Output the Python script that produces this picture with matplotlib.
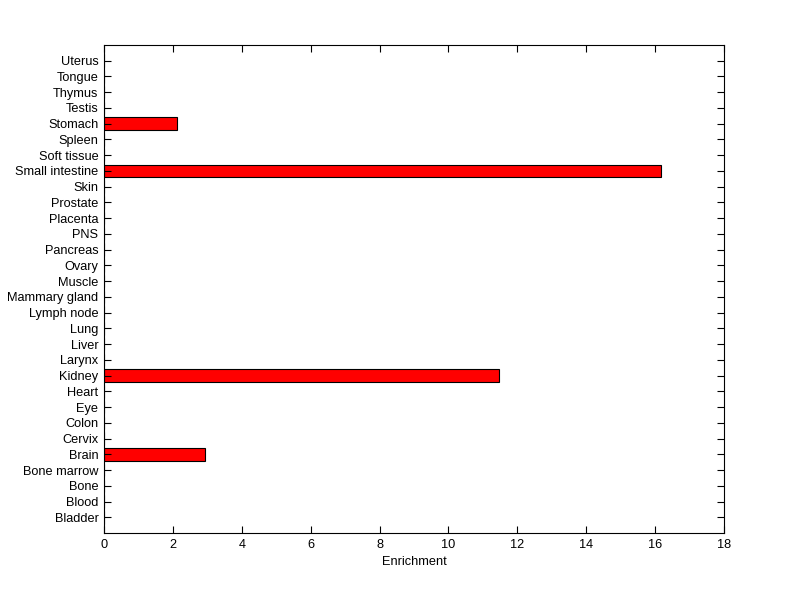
import numpy as np
import matplotlib
matplotlib.use('Agg')
import matplotlib.pyplot as plt

# tissues, bottom to top
tissues = ['Bladder', 'Blood', 'Bone', 'Bone marrow', 'Brain', 'Cervix', 'Colon',
           'Eye', 'Heart', 'Kidney', 'Larynx', 'Liver', 'Lung', 'Lymph node',
           'Mammary gland', 'Muscle', 'Ovary', 'Pancreas', 'PNS', 'Placenta',
           'Prostate', 'Skin', 'Small intestine', 'Soft tissue', 'Spleen',
           'Stomach', 'Testis', 'Thymus', 'Tongue', 'Uterus']
enrichment = [0, 0, 0, 0, 2.93, 0, 0,
              0, 0, 11.46, 0, 0, 0, 0,
              0, 0, 0, 0, 0, 0,
              0, 0, 16.17, 0, 0,
              2.12, 0, 0, 0, 0]
xticks = [0, 2, 4, 6, 8, 10, 12, 14, 16, 18]

plt.rcParams.update({
    'font.family': ['Liberation Sans', 'DejaVu Sans'],
    'font.size': 9.2,
    'axes.linewidth': 0.8,
})

fig = plt.figure(figsize=(8, 5.99), dpi=100)
ax = fig.add_axes([0.13, 0.11, 0.775, 0.815])

pos = np.arange(1, len(tissues) + 1)
ax.barh(pos, enrichment, height=0.8, color='#ff0000', edgecolor='black', linewidth=0.8)

ax.set_xlim(0, 18)
ax.set_ylim(0, len(tissues) + 1)
ax.set_xticks(xticks)
ax.set_yticks(pos)
ax.set_yticklabels(tissues)
ax.set_xlabel('Enrichment', labelpad=4)

ax.tick_params(direction='in', length=5, width=0.8, top=True, right=True, pad=4)

fig.savefig('out.png', dpi=100)
